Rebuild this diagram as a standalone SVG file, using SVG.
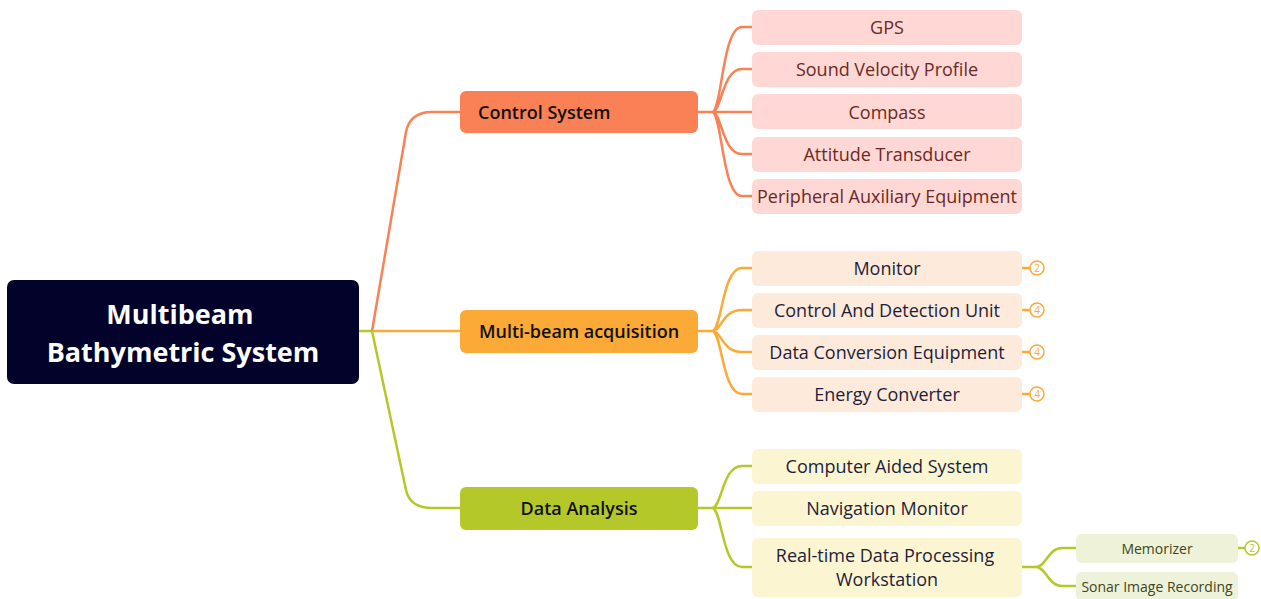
<svg xmlns="http://www.w3.org/2000/svg" width="1261" height="599" viewBox="0 0 1261 599">
<style>
text{font-family:"Open Sans","Liberation Sans",sans-serif;text-anchor:middle;dominant-baseline:central}
.root{font-size:27px;font-weight:bold;fill:#fff}
.main{font-size:18px;font-weight:600;fill:#111}
.c1{fill:#FFD8D5}.c1t{fill:#6B2A1F;font-size:18px}
.c2{fill:#FDEADA}.c2t{fill:#1E1E3A;font-size:18px}
.c3{fill:#FCF5D2}.c3t{fill:#1E1E3A;font-size:18px}
.c4{fill:#EEF2D8}.c4t{fill:#3D4620;font-size:14px}
.lo{fill:none;stroke:#FA8155;stroke-width:2.5}
.la{fill:none;stroke:#FBA937;stroke-width:2.5}
.lg{fill:none;stroke:#B5C82A;stroke-width:2.5}
.bo{fill:#fff;stroke:#FBA937;stroke-width:1.5}
.bot{fill:#FBA937;font-size:10px}
.bg{fill:#fff;stroke:#B5C82A;stroke-width:1.5}
.bgt{fill:#B5C82A;font-size:10px}
</style>
<rect width="1261" height="599" fill="#fff"/>
<g id="connectors">
<path class="lg" d="M359,331 L372,331"/>
<path class="lo" d="M372,331 L406,132 Q410,112 432,112 L460,112"/>
<path class="la" d="M372,331 L460,331"/>
<path class="lg" d="M372,331 L406,490 Q410,508 432,508 L460,508"/>
<path class="lo" d="M698,112 L712,112 M712,112 C722,112 722,27 742,27 L752,27 M712,112 C722,112 722,69 742,69 L752,69 M712,112 L752,112 M712,112 C722,112 722,154 742,154 L752,154 M712,112 C722,112 722,196 742,196 L752,196"/>
<path class="la" d="M698,331 L712,331 M712,331 C722,331 722,268 742,268 L752,268 M712,331 C722,331 722,310 742,310 L752,310 M712,331 C722,331 722,352 742,352 L752,352 M712,331 C722,331 722,394 742,394 L752,394"/>
<path class="lg" d="M698,508 L712,508 M712,508 C722,508 722,466 742,466 L752,466 M712,508 L752,508 M712,508 C722,508 722,567 742,567 L752,567"/>
<path class="lg" d="M1022,567 L1036,567 M1036,567 C1046,567 1048,548 1062,548 L1076,548 M1036,567 C1046,567 1048,586 1062,586 L1076,586"/>
<path class="la" d="M1022,268 L1030,268 M1022,310 L1030,310 M1022,352 L1030,352 M1022,394 L1030,394"/>
<path class="lg" d="M1238,548 L1245,548"/>
</g>
<g id="root"><rect x="7" y="280" width="352" height="104" rx="7" fill="#02022A"/><text class="root" x="180" y="313">Multibeam</text><text class="root" x="183" y="351">Bathymetric System</text></g>
<g id="control-system"><rect x="460" y="91" width="238" height="42" rx="6" fill="#FA8155"/><text class="main" x="478" y="112" style="text-anchor:start">Control System</text></g>
<g id="multi-beam"><rect x="460" y="310" width="238" height="43" rx="6" fill="#FBA937"/><text class="main" x="579" y="331">Multi-beam acquisition</text></g>
<g id="data-analysis"><rect x="460" y="487" width="238" height="43" rx="6" fill="#B5C82A"/><text class="main" x="579" y="508">Data Analysis</text></g>
<g id="gps"><rect class="c1" x="752" y="10" width="270" height="35" rx="6"/><text class="c1t" x="887" y="27">GPS</text></g>
<g id="svp"><rect class="c1" x="752" y="52" width="270" height="35" rx="6"/><text class="c1t" x="887" y="69">Sound Velocity Profile</text></g>
<g id="compass"><rect class="c1" x="752" y="94" width="270" height="35" rx="6"/><text class="c1t" x="887" y="112">Compass</text></g>
<g id="attitude"><rect class="c1" x="752" y="137" width="270" height="35" rx="6"/><text class="c1t" x="887" y="154">Attitude Transducer</text></g>
<g id="peripheral"><rect class="c1" x="752" y="179" width="270" height="35" rx="6"/><text class="c1t" x="887" y="196">Peripheral Auxiliary Equipment</text></g>
<g id="monitor"><rect class="c2" x="752" y="251" width="270" height="35" rx="6"/><text class="c2t" x="887" y="268">Monitor</text><circle class="bo" cx="1037" cy="268" r="7"/><text class="bot" x="1037" y="268">2</text></g>
<g id="cdu"><rect class="c2" x="752" y="293" width="270" height="35" rx="6"/><text class="c2t" x="887" y="310">Control And Detection Unit</text><circle class="bo" cx="1037" cy="310" r="7"/><text class="bot" x="1037" y="310">4</text></g>
<g id="dce"><rect class="c2" x="752" y="335" width="270" height="35" rx="6"/><text class="c2t" x="887" y="352">Data Conversion Equipment</text><circle class="bo" cx="1037" cy="352" r="7"/><text class="bot" x="1037" y="352">4</text></g>
<g id="energy"><rect class="c2" x="752" y="377" width="270" height="35" rx="6"/><text class="c2t" x="887" y="394">Energy Converter</text><circle class="bo" cx="1037" cy="394" r="7"/><text class="bot" x="1037" y="394">4</text></g>
<g id="cas"><rect class="c3" x="752" y="449" width="270" height="35" rx="6"/><text class="c3t" x="887" y="466">Computer Aided System</text></g>
<g id="nav"><rect class="c3" x="752" y="491" width="270" height="35" rx="6"/><text class="c3t" x="887" y="508">Navigation Monitor</text></g>
<g id="rtdp"><rect class="c3" x="752" y="538" width="270" height="59" rx="6"/><text class="c3t" x="885" y="555">Real-time Data Processing</text><text class="c3t" x="887" y="579">Workstation</text></g>
<g id="memorizer"><rect class="c4" x="1076" y="534" width="162" height="29" rx="6"/><text class="c4t" x="1157" y="548">Memorizer</text><circle class="bg" cx="1252" cy="548" r="7"/><text class="bgt" x="1252" y="548">2</text></g>
<g id="sonar"><rect class="c4" x="1076" y="572" width="162" height="29" rx="6"/><text class="c4t" x="1157" y="586">Sonar Image Recording</text></g>
</svg>
